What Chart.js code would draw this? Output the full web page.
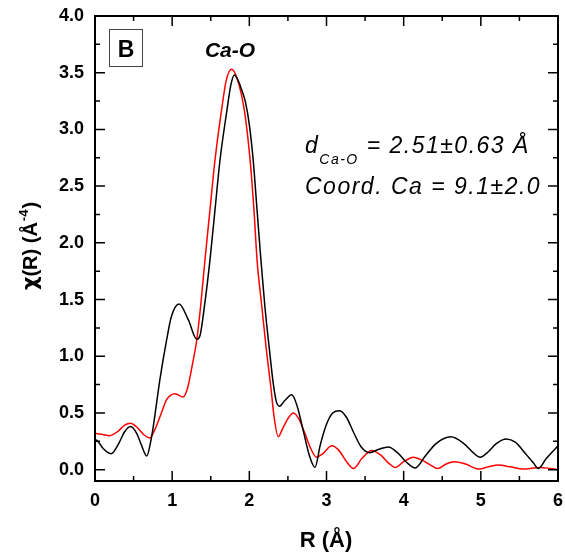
<!DOCTYPE html>
<html>
<head>
<meta charset="utf-8">
<script src="https://cdn.jsdelivr.net/npm/chart.js@4.4.1/dist/chart.umd.min.js"></script>
<style>
  html, body { margin: 0; padding: 0; background: #fff; }
  canvas { display: block; }
</style>
</head>
<body>
<canvas id="chart" width="565" height="553"></canvas>
<script>
// Данные: R (Å) и χ(R) для эксперимента (чёрная) и подгонки (красная)
const expR = [0.00, 0.05, 0.10, 0.21, 0.30, 0.38, 0.46, 0.54, 0.60, 0.67, 0.72, 0.755, 0.84, 0.93, 0.99, 1.09, 1.21, 1.32, 1.36, 1.42, 1.49, 1.555, 1.62, 1.71, 1.76, 1.805, 1.85, 1.90, 1.95, 2.00, 2.05, 2.10, 2.15, 2.20, 2.26, 2.31, 2.35, 2.39, 2.46, 2.55, 2.62, 2.70, 2.78, 2.85, 2.92, 3.00, 3.08, 3.17, 3.26, 3.35, 3.45, 3.56, 3.68, 3.80, 3.92, 4.03, 4.15, 4.28, 4.42, 4.61, 4.78, 4.90, 4.99, 5.10, 5.20, 5.33, 5.45, 5.58, 5.68, 5.745, 5.85, 6.00];
const expChi = [0.27, 0.24, 0.19, 0.14, 0.22, 0.33, 0.38, 0.32, 0.22, 0.12, 0.24, 0.38, 0.79, 1.15, 1.35, 1.46, 1.32, 1.15, 1.18, 1.45, 1.85, 2.29, 2.73, 3.17, 3.39, 3.48, 3.44, 3.35, 3.24, 3.04, 2.73, 2.29, 1.85, 1.45, 1.06, 0.76, 0.60, 0.56, 0.61, 0.66, 0.56, 0.34, 0.12, 0.02, 0.22, 0.40, 0.50, 0.52, 0.46, 0.33, 0.20, 0.15, 0.18, 0.20, 0.15, 0.07, 0.015, 0.12, 0.23, 0.29, 0.23, 0.15, 0.11, 0.16, 0.23, 0.27, 0.24, 0.14, 0.06, 0.01, 0.10, 0.21];

const fitR = [0.00, 0.10, 0.19, 0.30, 0.38, 0.46, 0.55, 0.63, 0.71, 0.78, 0.86, 0.93, 1.04, 1.14, 1.20, 1.26, 1.32, 1.37, 1.425, 1.49, 1.555, 1.64, 1.70, 1.77, 1.84, 1.935, 2.01, 2.06, 2.10, 2.16, 2.22, 2.28, 2.32, 2.375, 2.43, 2.50, 2.57, 2.64, 2.72, 2.80, 2.87, 2.95, 3.07, 3.16, 3.26, 3.35, 3.46, 3.585, 3.70, 3.80, 3.89, 4.00, 4.125, 4.25, 4.35, 4.44, 4.55, 4.66, 4.80, 4.98, 5.10, 5.23, 5.38, 5.55, 5.77, 5.90, 6.00];
const fitChi = [0.32, 0.31, 0.30, 0.34, 0.39, 0.41, 0.37, 0.31, 0.28, 0.36, 0.50, 0.62, 0.67, 0.64, 0.72, 0.92, 1.15, 1.45, 1.85, 2.29, 2.73, 3.17, 3.43, 3.53, 3.45, 3.17, 2.73, 2.29, 1.85, 1.45, 1.06, 0.72, 0.47, 0.29, 0.36, 0.45, 0.50, 0.45, 0.32, 0.18, 0.11, 0.14, 0.21, 0.17, 0.07, 0.01, 0.10, 0.17, 0.13, 0.06, 0.02, 0.07, 0.11, 0.08, 0.04, 0.01, 0.05, 0.07, 0.05, 0.005, 0.025, 0.04, 0.025, 0.005, 0.02, 0.01, 0.00];

// Деления осей
const xMajor = [0, 1, 2, 3, 4, 5, 6];
const xMinor = [0.5, 1.5, 2.5, 3.5, 4.5, 5.5];
const yMajor = [0.0, 0.5, 1.0, 1.5, 2.0, 2.5, 3.0, 3.5, 4.0];
const yMinor = [0.25, 0.75, 1.25, 1.75, 2.25, 2.75, 3.25, 3.75];

const FONT = '"Liberation Sans", Arial, sans-serif';

function toPoints(xs, ys) {
    return xs.map((x, i) => ({ x: x, y: ys[i] }));
}

// Рамка, внутренние деления и подписи
const decorPlugin = {
    id: 'decor',
    afterDatasetsDraw(chart) {
        const { ctx, chartArea: a, scales: { x, y } } = chart;
        ctx.save();

        // внутренние деления на всех четырёх сторонах
        ctx.strokeStyle = '#000';
        ctx.lineWidth = 1.5;
        ctx.beginPath();
        const xt = (list, len) => list.forEach(v => {
            const px = x.getPixelForValue(v);
            ctx.moveTo(px, a.bottom); ctx.lineTo(px, a.bottom - len);
            ctx.moveTo(px, a.top); ctx.lineTo(px, a.top + len);
        });
        const yt = (list, len) => list.forEach(v => {
            const py = y.getPixelForValue(v);
            ctx.moveTo(a.left, py); ctx.lineTo(a.left + len, py);
            ctx.moveTo(a.right, py); ctx.lineTo(a.right - len, py);
        });
        xt(xMajor, 10); xt(xMinor, 5);
        yt(yMajor, 10); yt(yMinor, 5);
        ctx.stroke();

        ctx.lineWidth = 2;
        ctx.strokeRect(a.left, a.top, a.right - a.left, a.bottom - a.top);

        // метка панели "B"
        ctx.lineWidth = 1;
        ctx.strokeStyle = '#444';
        ctx.strokeRect(109.5, 29.5, 33, 37);
        ctx.fillStyle = '#000';
        ctx.textAlign = 'center';
        ctx.textBaseline = 'alphabetic';
        ctx.font = 'bold 23px ' + FONT;
        ctx.fillText('B', 126, 57);

        ctx.font = 'italic bold 21px ' + FONT;
        ctx.fillText('Ca-O', 230, 57);

        // параметры подгонки
        ctx.textAlign = 'left';
        if ('letterSpacing' in ctx) ctx.letterSpacing = '1.5px';
        ctx.font = 'italic 23px ' + FONT;
        ctx.fillText('d', 305, 153);
        let w = ctx.measureText('d').width;
        ctx.font = 'italic 14px ' + FONT;
        ctx.fillText('Ca-O', 305 + w, 164);
        const w2 = ctx.measureText('Ca-O').width;
        ctx.font = 'italic 23px ' + FONT;
        ctx.fillText(' = 2.51\u00B10.63 \u00C5', 305 + w + w2, 153);
        ctx.fillText('Coord. Ca = 9.1\u00B12.0', 305, 194);
        if ('letterSpacing' in ctx) ctx.letterSpacing = '0px';

        // подписи осей
        ctx.textAlign = 'center';
        ctx.font = 'bold 22px ' + FONT;
        ctx.fillText('R (\u00C5)', 326, 547);

        ctx.translate(37, 246);
        ctx.rotate(-Math.PI / 2);
        const chiFont = 'bold 21px "DejaVu Sans", sans-serif';
        const mainFont = 'bold 20px ' + FONT;
        const supFont = 'bold 13px ' + FONT;
        const chi = '\u03C7';
        const main = '(R) (\u00C5';
        const sup = '-4';
        ctx.font = chiFont; const wx = ctx.measureText(chi).width;
        ctx.font = mainFont; const wm = ctx.measureText(main).width;
        const wc = ctx.measureText(')').width;
        ctx.font = supFont; const ws = ctx.measureText(sup).width;
        const total = wx + wm + ws + wc + 2;
        let sx = -total / 2;
        ctx.textAlign = 'left';
        ctx.font = chiFont; ctx.fillText(chi, sx, 0);
        sx += wx;
        ctx.font = mainFont; ctx.fillText(main, sx, 0);
        sx += wm + 1;
        ctx.font = supFont; ctx.fillText(sup, sx, -9);
        sx += ws + 1;
        ctx.font = mainFont; ctx.fillText(')', sx, 0);

        ctx.restore();
    }
};

const chart = new Chart(document.getElementById('chart'), {
    type: 'line',
    data: {
        datasets: [{
            label: 'exp',
            data: toPoints(expR, expChi),
            borderColor: '#000000',
            borderWidth: 1.5,
            pointRadius: 0,
            cubicInterpolationMode: 'monotone',
            fill: false
        }, {
            label: 'fit',
            data: toPoints(fitR, fitChi),
            borderColor: '#ff0000',
            borderWidth: 1.5,
            pointRadius: 0,
            cubicInterpolationMode: 'monotone',
            fill: false
        }]
    },
    options: {
        responsive: false,
        animation: false,
        devicePixelRatio: 1,
        layout: { padding: { top: 16, right: 7, left: 0, bottom: 0 } },
        plugins: {
            legend: { display: false },
            tooltip: { enabled: false }
        },
        scales: {
            x: {
                type: 'linear',
                min: 0,
                max: 6,
                grid: { display: false, drawTicks: false },
                border: { display: false },
                afterBuildTicks: s => { s.ticks = xMajor.map(v => ({ value: v })); },
                afterFit: s => { s.height = 72; s.paddingLeft = 0; s.paddingRight = 0; },
                ticks: {
                    color: '#000',
                    padding: 9,
                    maxRotation: 0,
                    font: { family: FONT, size: 18, weight: 'bold' },
                    callback: v => String(v)
                }
            },
            y: {
                type: 'linear',
                min: -0.1,
                max: 4.0,
                grid: { display: false, drawTicks: false },
                border: { display: false },
                afterBuildTicks: s => { s.ticks = yMajor.map(v => ({ value: v })); },
                afterFit: s => { s.width = 95; s.paddingTop = 0; s.paddingBottom = 0; },
                ticks: {
                    color: '#000',
                    padding: 11,
                    font: { family: FONT, size: 18, weight: 'bold' },
                    callback: v => v.toFixed(1)
                }
            }
        }
    },
    plugins: [decorPlugin]
});
</script>
</body>
</html>
